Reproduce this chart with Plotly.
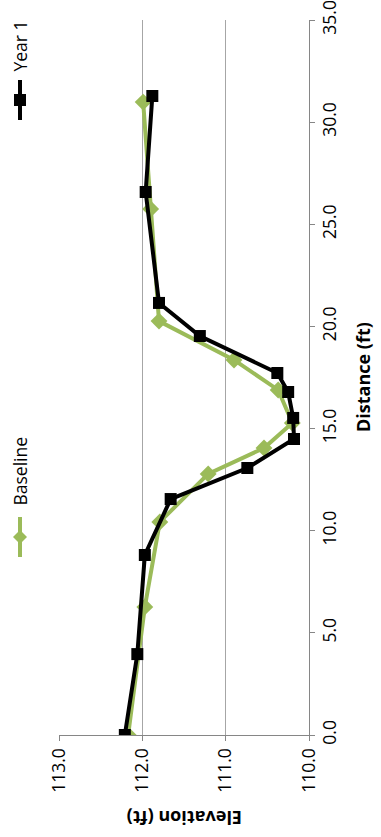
import plotly.graph_objects as go

# Data (distance in ft, elevation in ft)
baseline_dist = [0.0, 6.27, 10.43, 12.78, 14.05, 15.27, 16.89, 18.36, 20.26, 25.75, 30.98]
baseline_elev = [112.17, 111.97, 111.79, 111.21, 110.54, 110.20, 110.37, 110.90, 111.80, 111.90, 111.99]
year1_dist = [0.0, 3.96, 8.81, 11.55, 13.07, 14.49, 15.52, 16.79, 17.72, 19.53, 21.15, 26.58, 31.28]
year1_elev = [112.21, 112.06, 111.97, 111.66, 110.74, 110.18, 110.19, 110.25, 110.38, 111.31, 111.80, 111.96, 111.88]
dist_ticks = [0, 5, 10, 15, 20, 25, 30, 35]
elev_ticks = [110, 111, 112, 113]

W, H = 381, 837
# plot area in window pixels: x 59..309, y 20..735
PL, PR, PT, PB = 59, 309, 20, 735
L, T, R, B = PL, PT, W - PR, H - PB
PW, PH = PR - PL, PB - PT

def px(x):
    return (x - PL) / PW

def py(y):
    return (PB - y) / PH

GREEN = "#9BBB59"
BLACK = "#000000"
FONT = "Open Sans"
TS = 17.5

fig = go.Figure()
# Chart is drawn rotated: elevation runs horizontally, distance vertically
fig.add_trace(go.Scatter(x=baseline_elev, y=baseline_dist, mode="lines+markers", name="Baseline",
                         line=dict(color=GREEN, width=4),
                         marker=dict(symbol="diamond", size=13, color=GREEN)))
fig.add_trace(go.Scatter(x=year1_elev, y=year1_dist, mode="lines+markers", name="Year 1",
                         line=dict(color=BLACK, width=4),
                         marker=dict(symbol="square", size=12, color=BLACK)))

shapes = []
annotations = []
# Legend (rotated)
def legend_item(cx, cy, color, kind, label, text_end_y):
    shapes.append(dict(type="line", xref="paper", yref="paper",
                       x0=px(cx), x1=px(cx), y0=py(cy - 20), y1=py(cy + 20),
                       line=dict(color=color, width=4)))
    if kind == "diamond":
        path = (f"M {px(cx)},{py(cy-7)} L {px(cx+7)},{py(cy)} L {px(cx)},{py(cy+7)} "
                f"L {px(cx-7)},{py(cy)} Z")
        shapes.append(dict(type="path", xref="paper", yref="paper", path=path,
                           fillcolor=color, line=dict(color=color, width=0)))
    else:
        shapes.append(dict(type="rect", xref="paper", yref="paper",
                           x0=px(cx - 6), x1=px(cx + 6), y0=py(cy - 6), y1=py(cy + 6),
                           fillcolor=color, line=dict(color=color, width=0)))
    annotations.append(dict(text=label, xref="paper", yref="paper", x=px(cx), y=py(text_end_y),
                            xanchor="center", yanchor="bottom", textangle=-90, showarrow=False,
                            font=dict(family=FONT, size=TS, color="#000")))

legend_item(20, 537, GREEN, "diamond", "Baseline", 508)
legend_item(20, 100, BLACK, "square", "Year 1", 74)

annotations.append(dict(text="<b>Elevation (ft)</b>", xref="paper", yref="paper",
                        x=px(185), y=py(818), xanchor="center", yanchor="middle",
                        textangle=180, showarrow=False,
                        font=dict(family=FONT, size=18, color="#000")))
annotations.append(dict(text="<b>Distance (ft)</b>", xref="paper", yref="paper",
                        x=px(363), y=py(377), xanchor="center", yanchor="middle",
                        textangle=-90, showarrow=False,
                        font=dict(family=FONT, size=18, color="#000")))

fig.update_layout(
    width=W, height=H,
    margin=dict(l=L, r=R, t=T, b=B, autoexpand=False),
    paper_bgcolor="white", plot_bgcolor="white",
    showlegend=False,
    shapes=shapes, annotations=annotations,
    font=dict(family=FONT, size=TS, color="#000"),
    xaxis=dict(range=[113, 110], tickvals=elev_ticks, tickformat=".1f", tickangle=-90,
               automargin=False, ticklabeloverflow="allow",
               showgrid=True, gridcolor="#A6A6A6", gridwidth=1.3,
               showline=True, linecolor="#868686", linewidth=1.3,
               ticks="outside", ticklen=5, tickcolor="#868686",
               zeroline=False, tickfont=dict(family=FONT, size=TS, color="#000")),
    yaxis=dict(range=[0, 35], tickvals=dist_ticks, tickformat=".1f", tickangle=-90, side="right",
               automargin=False, ticklabeloverflow="allow",
               showgrid=False, showline=True, linecolor="#868686", linewidth=1.3,
               ticks="outside", ticklen=5, tickcolor="#868686",
               zeroline=False, tickfont=dict(family=FONT, size=TS, color="#000")),
)

fig.write_html("out.html", config={"displayModeBar": False},
               post_script="document.body.style.margin='0';document.body.style.overflow='hidden';")
